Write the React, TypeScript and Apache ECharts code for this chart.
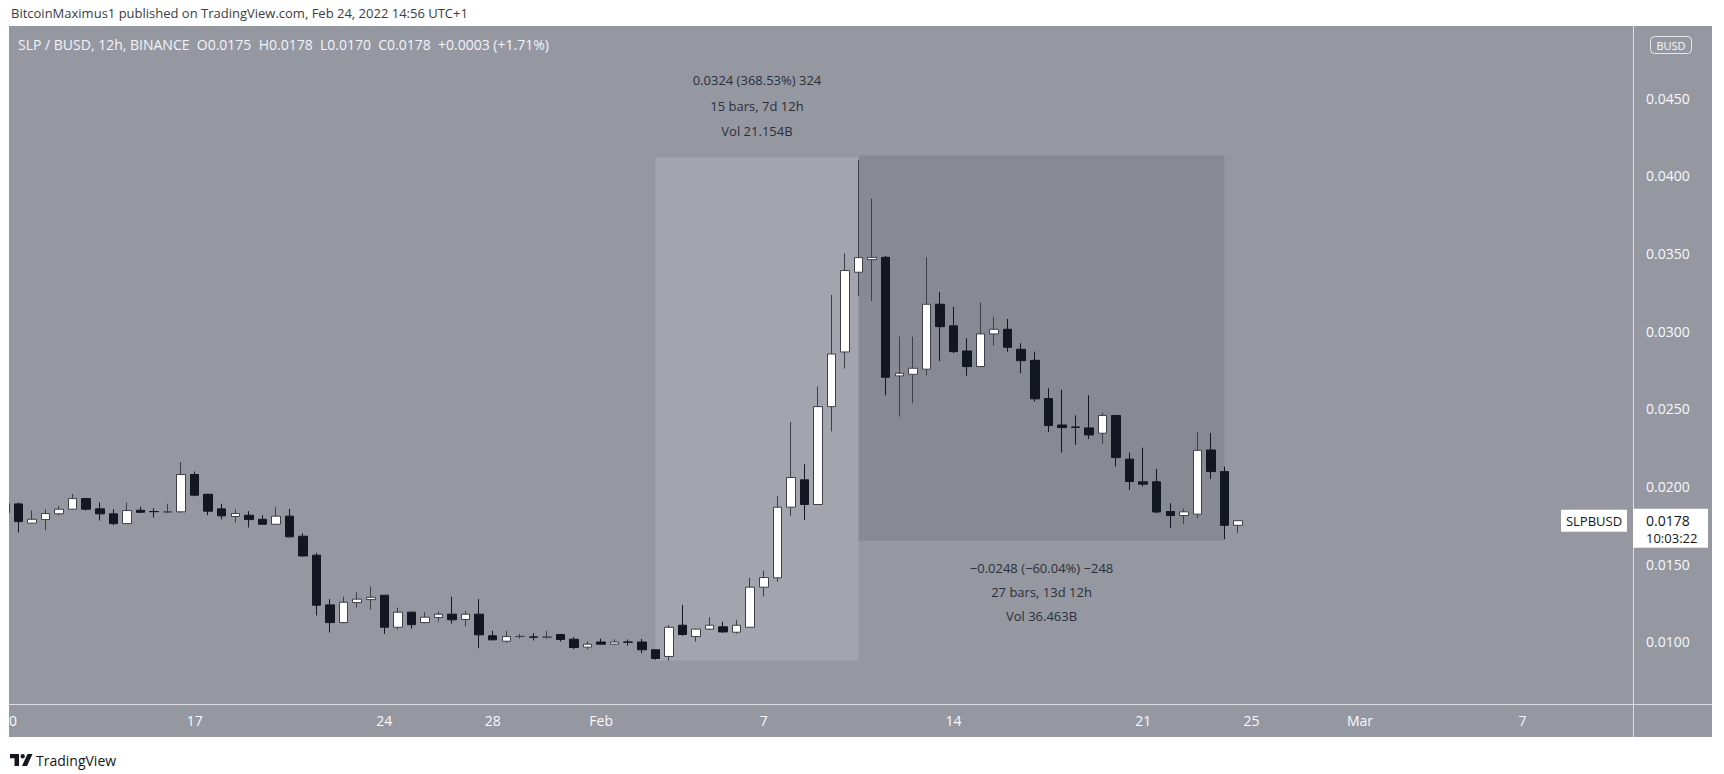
import React, { useEffect, useRef } from "react";
import * as echarts from "echarts";

// SLP / BUSD, Binance, 12h bars. Bar 0 = Jan 10 2022 00:00 UTC
const START_UTC = Date.UTC(2022, 0, 10);
const MONTHS = ["Jan", "Feb", "Mar", "Apr"];

const opens = [
  0.0183, 0.01888, 0.01764, 0.01787, 0.01824, 0.01854, 0.01922, 0.01856, 0.01824, 0.01761,
  0.01847, 0.01839, 0.01836, 0.01837, 0.02077, 0.0195, 0.01856, 0.01807, 0.01815, 0.01789,
  0.01757, 0.01809, 0.0168, 0.01558, 0.01238, 0.01124, 0.01253, 0.01272, 0.013, 0.01094,
  0.01191, 0.01124, 0.01157, 0.01178, 0.01144, 0.01178, 0.01039, 0.01004, 0.01034, 0.01032,
  0.0103, 0.01047, 0.01017, 0.00966, 0.00999, 0.00985, 0.00999, 0.00999, 0.00949, 0.00906,
  0.01107, 0.01034, 0.01082, 0.01097, 0.01062, 0.01094, 0.01352, 0.01412, 0.01867, 0.02043,
  0.01884, 0.02514, 0.02866, 0.03379, 0.0346, 0.03475, 0.02712, 0.02722, 0.02755, 0.03173,
  0.03034, 0.02872, 0.02772, 0.02982, 0.03012, 0.02883, 0.02812, 0.02566, 0.02396, 0.02383,
  0.02377, 0.02343, 0.02457, 0.02176, 0.0203, 0.0203, 0.01839, 0.01813, 0.01822, 0.02235,
  0.02096, 0.0175,
];
const closes = [
  0.0189, 0.01774, 0.01789, 0.01826, 0.01854, 0.01922, 0.01854, 0.01824, 0.01761, 0.01845,
  0.01834, 0.01838, 0.01837, 0.02077, 0.01944, 0.01841, 0.01811, 0.01826, 0.01787, 0.01757,
  0.01809, 0.01676, 0.01553, 0.01236, 0.01124, 0.01255, 0.01275, 0.01287, 0.01094, 0.01191,
  0.01111, 0.01159, 0.01178, 0.01142, 0.01178, 0.01045, 0.01013, 0.01034, 0.01035, 0.0103,
  0.01031, 0.01015, 0.00964, 0.00985, 0.00985, 0.00999, 0.00998, 0.00949, 0.00893, 0.01094,
  0.01047, 0.01082, 0.01107, 0.01064, 0.01107, 0.01352, 0.01414, 0.01867, 0.02058, 0.01884,
  0.02514, 0.02853, 0.0339, 0.03473, 0.03475, 0.02703, 0.02729, 0.02761, 0.03173, 0.03029,
  0.02868, 0.02772, 0.02982, 0.03012, 0.02896, 0.0281, 0.02564, 0.02392, 0.02379, 0.02381,
  0.02332, 0.02457, 0.02186, 0.02032, 0.02015, 0.01836, 0.01813, 0.01837, 0.02233, 0.02096,
  0.0175, 0.0178,
];
const lows = [
  0.0182, 0.01704, 0.01761, 0.01719, 0.01815, 0.01849, 0.01845, 0.01781, 0.01751, 0.01761,
  0.0183, 0.018, 0.01832, 0.0183, 0.01937, 0.01815, 0.01789, 0.01768, 0.01736, 0.01755,
  0.01757, 0.01671, 0.01549, 0.0117, 0.0106, 0.0112, 0.01221, 0.01208, 0.01051, 0.01081,
  0.01086, 0.0112, 0.01131, 0.01118, 0.01099, 0.00959, 0.01011, 0.00994, 0.01021, 0.01009,
  0.01021, 0.01002, 0.00953, 0.00951, 0.00983, 0.00981, 0.00977, 0.00927, 0.00885, 0.0088,
  0.01039, 0.01002, 0.01077, 0.01058, 0.01052, 0.01094, 0.01292, 0.01386, 0.01811, 0.01783,
  0.01884, 0.02354, 0.02759, 0.03227, 0.03194, 0.02587, 0.0245, 0.02536, 0.02716, 0.02808,
  0.02858, 0.02712, 0.02772, 0.02905, 0.02868, 0.02729, 0.02547, 0.0235, 0.02218, 0.02268,
  0.02306, 0.02276, 0.02128, 0.01978, 0.02, 0.01828, 0.01731, 0.01759, 0.01796, 0.02049,
  0.01661, 0.017,
];
const highs = [
  0.019, 0.01897, 0.01845, 0.01854, 0.01875, 0.01952, 0.01927, 0.01897, 0.01854, 0.01897,
  0.01869, 0.0186, 0.01888, 0.02158, 0.02096, 0.01952, 0.01888, 0.01854, 0.01841, 0.01815,
  0.01869, 0.01856, 0.01699, 0.01573, 0.01275, 0.0129, 0.0132, 0.01356, 0.01302, 0.01221,
  0.01195, 0.01191, 0.01195, 0.0129, 0.012, 0.01275, 0.01071, 0.01071, 0.01051, 0.01056,
  0.01071, 0.01051, 0.0103, 0.01002, 0.01021, 0.01017, 0.01015, 0.01019, 0.00949, 0.01109,
  0.01238, 0.01086, 0.01159, 0.01129, 0.01142, 0.01412, 0.01459, 0.01937, 0.02416, 0.02143,
  0.02645, 0.03233, 0.03501, 0.04102, 0.03853, 0.03484, 0.02965, 0.02965, 0.03475, 0.03252,
  0.03156, 0.02954, 0.03186, 0.03093, 0.03078, 0.02922, 0.02868, 0.02632, 0.02622, 0.02458,
  0.02587, 0.02476, 0.02459, 0.02218, 0.0225, 0.02113, 0.01892, 0.01858, 0.02353, 0.02345,
  0.02128, 0.0178,
];

const timeTickBars = [14, 28, 36, 44, 56, 70, 84, 92, 100, 112];
const priceTicks = [0.01, 0.015, 0.02, 0.025, 0.03, 0.035, 0.04, 0.045];

const riseRange = {
  fromBar: 48, toBar: 63, low: 0.0088, high: 0.0412,
  lines: ["0.0324 (368.53%) 324", "15 bars, 7d 12h", "Vol 21.154B"],
};
const fallRange = {
  fromBar: 63, toBar: 90, low: 0.0165, high: 0.0413,
  lines: ["\u22120.0248 (\u221260.04%) \u2212248", "27 bars, 13d 12h", "Vol 36.463B"],
};

const FONT = '"Open Sans", "Noto Sans", sans-serif';
const W = 1724;
const H = 774;

function barLabel(v: number): string {
  const d = new Date(START_UTC + Math.round(v) * 12 * 3600 * 1000);
  const day = d.getUTCDate();
  if (day === 1) return MONTHS[d.getUTCMonth()];
  return String(day);
}

export default function App() {
  const ref = useRef<HTMLDivElement>(null);

  useEffect(() => {
    if (!ref.current) return;
    const chart = echarts.init(ref.current, undefined, { renderer: "svg" });
    const candleData = opens.map((o, i) => [i, o, closes[i], lows[i], highs[i]]);
    const last = opens.length - 1;

    chart.setOption({
      animation: false,
      backgroundColor: "#9598a1",
      grid: { left: 9, right: 91, top: 26, bottom: 70 },
      xAxis: {
        type: "value",
        min: 0.3,
        max: 120.15,
        splitLine: { show: false },
        axisTick: { show: false },
        axisLine: { show: true, onZero: false, lineStyle: { color: "#dcdee3", width: 1 } },
        axisLabel: {
          customValues: timeTickBars,
          formatter: (v: number) => barLabel(v),
          color: "#f8f9fb",
          fontSize: 14,
          fontFamily: FONT,
          margin: 9,
        },
      },
      yAxis: {
        type: "value",
        position: "right",
        min: 0.006,
        max: 0.04964,
        splitLine: { show: false },
        axisTick: { show: false },
        axisLine: { show: true, onZero: false, lineStyle: { color: "#dcdee3", width: 1 } },
        axisLabel: {
          customValues: priceTicks,
          formatter: (v: number) => v.toFixed(4),
          color: "#f8f9fb",
          fontSize: 14,
          fontFamily: FONT,
          margin: 13,
        },
      },
      series: [
        {
          type: "line",
          data: [],
          silent: true,
          z: 1,
          markArea: {
            silent: true,
            data: [
              [
                {
                  xAxis: riseRange.fromBar,
                  yAxis: riseRange.low,
                  itemStyle: { color: "#a2a5ad" },
                  label: {
                    show: true,
                    position: "top",
                    distance: 13,
                    formatter: riseRange.lines.join("\n"),
                    color: "#2b2f3a",
                    fontSize: 13,
                    lineHeight: 25.5,
                    fontFamily: FONT,
                    align: "center",
                  },
                },
                { xAxis: riseRange.toBar, yAxis: riseRange.high },
              ],
              [
                {
                  xAxis: fallRange.fromBar,
                  yAxis: fallRange.low,
                  itemStyle: { color: "#878a92" },
                  label: {
                    show: true,
                    position: "bottom",
                    distance: 15,
                    formatter: fallRange.lines.join("\n"),
                    color: "#2b2f3a",
                    fontSize: 13,
                    lineHeight: 24,
                    fontFamily: FONT,
                    align: "center",
                  },
                },
                { xAxis: fallRange.toBar, yAxis: fallRange.high },
              ],
            ],
          },
        },
        {
          type: "candlestick",
          z: 3,
          data: candleData,
          dimensions: ["bar", "open", "close", "lowest", "highest"],
          encode: { x: "bar", y: ["open", "close", "lowest", "highest"] },
          barWidth: 9,
          clip: true,
          itemStyle: {
            color: "#ffffff",
            color0: "#131722",
            borderColor: "#3d4049",
            borderColor0: "#131722",
            borderWidth: 1,
          },
        },
      ],
    });

    const py = chart.convertToPixel({ yAxisIndex: 0 }, closes[last]) as number;
    const o = opens[last], h = highs[last], l = lows[last], c = closes[last];
    const chg = c - closes[last - 1];
    const pct = (chg / closes[last - 1]) * 100;
    const sgn = chg >= 0 ? "+" : "\u2212";
    const legend =
      `SLP / BUSD, 12h, BINANCE  O${o.toFixed(4)}  H${h.toFixed(4)}  L${l.toFixed(4)}  C${c.toFixed(4)}  ` +
      `${sgn}${Math.abs(chg).toFixed(4)} (${sgn}${Math.abs(pct).toFixed(2)}%)`;
    // the first date label ("10") is mostly hidden behind the chart's left edge; only its "0" shows
    const firstLabelTail = barLabel(0).slice(-1);

    echarts.graphic.registerShape(
      "tvlogo",
      echarts.graphic.extendPath("M0 0H9V12H4.5V4.2H0Z M10.5 2.2a2.2 2.2 0 1 0 4.4 0a2.2 2.2 0 1 0 -4.4 0Z M17.5 0H22.5L17 12H12Z", {})
    );

    chart.setOption({
      graphic: [
        { type: "text", z: 101, x: 9, y: 720, style: { text: firstLabelTail, fill: "#f8f9fb", font: `14px ${FONT}`, verticalAlign: "middle" } },
        { type: "rect", z: 100, shape: { x: 0, y: 0, width: W, height: 26 }, style: { fill: "#ffffff" } },
        { type: "rect", z: 100, shape: { x: 0, y: 0, width: 9, height: H }, style: { fill: "#ffffff" } },
        { type: "rect", z: 100, shape: { x: 1712, y: 0, width: 12, height: H }, style: { fill: "#ffffff" } },
        { type: "rect", z: 100, shape: { x: 0, y: 737, width: W, height: 37 }, style: { fill: "#ffffff" } },
        { type: "line", z: 95, shape: { x1: 1633, y1: 704.5, x2: 1712, y2: 704.5 }, style: { stroke: "#dcdee3", lineWidth: 1 } },
        { type: "line", z: 95, shape: { x1: 1633.5, y1: 704, x2: 1633.5, y2: 737 }, style: { stroke: "#dcdee3", lineWidth: 1 } },
        {
          type: "text", z: 101, x: 11, y: 13,
          style: { text: "BitcoinMaximus1 published on TradingView.com, Feb 24, 2022 14:56 UTC+1", fill: "#3a3d45", font: `13px ${FONT}`, verticalAlign: "middle" },
        },
        {
          type: "text", z: 101, x: 18, y: 44,
          style: { text: legend, fill: "#f3f4f8", font: `14px ${FONT}`, verticalAlign: "middle" },
        },
        { type: "rect", z: 101, shape: { x: 1650.5, y: 36.5, width: 41, height: 17, r: 4 }, style: { fill: "none", stroke: "#e6e8ee", lineWidth: 1 } },
        { type: "text", z: 102, x: 1671, y: 45, style: { text: "BUSD", fill: "#f8f9fb", font: `11px ${FONT}`, align: "center", verticalAlign: "middle" } },
        { type: "rect", z: 101, shape: { x: 1561, y: py - 11, width: 66, height: 22 }, style: { fill: "#ffffff" } },
        { type: "text", z: 102, x: 1594, y: py, style: { text: "SLPBUSD", fill: "#131722", font: `13px ${FONT}`, align: "center", verticalAlign: "middle" } },
        { type: "rect", z: 101, shape: { x: 1633, y: py - 12, width: 75, height: 39 }, style: { fill: "#ffffff" } },
        { type: "text", z: 102, x: 1646, y: py, style: { text: c.toFixed(4), fill: "#131722", font: `14px ${FONT}`, verticalAlign: "middle" } },
        { type: "text", z: 102, x: 1646, y: py + 17, style: { text: "10:03:22", fill: "#131722", font: `13px ${FONT}`, verticalAlign: "middle" } },
        { type: "tvlogo", z: 101, x: 10, y: 754, scaleX: 1, scaleY: 1, style: { fill: "#131722" } },
        { type: "text", z: 101, x: 36, y: 760, style: { text: "TradingView", fill: "#131722", font: `14px ${FONT}`, verticalAlign: "middle" } },
      ],
    });

    return () => chart.dispose();
  }, []);

  return (
    <div
      ref={ref}
      style={{ position: "fixed", left: 0, top: 0, width: W, height: H }}
    />
  );
}
